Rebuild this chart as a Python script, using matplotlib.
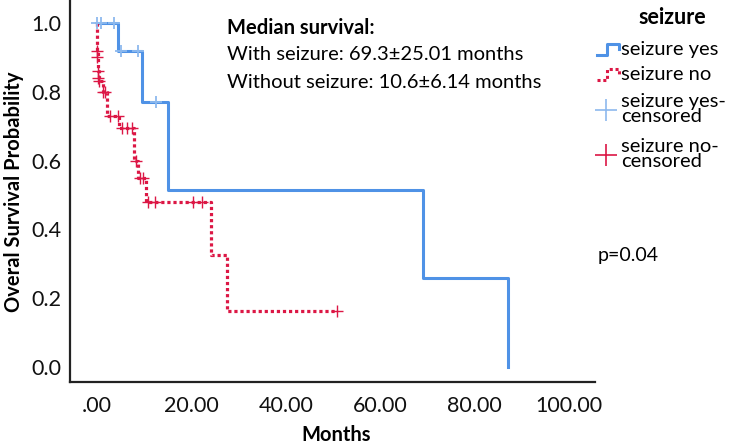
import matplotlib
matplotlib.use('Agg')
import matplotlib.pyplot as plt
from matplotlib.lines import Line2D

plt.rcParams['font.family'] = ['Lato', 'DejaVu Sans']

# seizure yes: event times / survival after each step
yes_t = [0.0, 4.4, 9.5, 15.0, 69.0, 87.0]
yes_s = [1.0, 0.92, 0.77, 0.515, 0.258, 0.0]
yes_cens_t = [0.1, 0.8, 3.6, 5.2, 8.7, 12.5]
yes_cens_s = [1.0, 1.0, 1.0, 0.92, 0.92, 0.77]

# seizure no
no_t = [0.0, 0.2, 0.5, 1.2, 2.2, 4.6, 7.8, 8.6, 10.4, 24.2, 27.5, 50.8]
no_s = [0.92, 0.86, 0.83, 0.80, 0.73, 0.695, 0.60, 0.55, 0.48, 0.325, 0.163, 0.163]
no_cens_t = [0.1, 0.1, 0.2, 0.3, 0.5, 1.3, 1.7, 2.8, 4.4, 5.3, 6.4, 7.4,
             8.2, 9.1, 9.7, 10.8, 12.3, 20.3, 22.2, 50.8]
no_cens_s = [0.92, 0.90, 0.86, 0.84, 0.83, 0.80, 0.80, 0.73, 0.73, 0.695, 0.695, 0.695,
             0.60, 0.55, 0.55, 0.48, 0.48, 0.48, 0.48, 0.163]

xticks = [0, 20, 40, 60, 80, 100]
xtick_labels = ['.00', '20.00', '40.00', '60.00', '80.00', '100.00']
yticks = [0.0, 0.2, 0.4, 0.6, 0.8, 1.0]

legend_title = 'seizure'
legend_labels = ['seizure yes', 'seizure no', 'seizure yes-\ncensored', 'seizure no-\ncensored']

BLUE = '#4F92E6'
BLUE_LIGHT = '#8DB9EE'
RED = '#DC1745'
RED_LS = (0, (1.0, 0.9))

W, H = 745, 445


def fx(px):
    return px / W


def fy(py):
    return 1 - py / H


fig = plt.figure(figsize=(7.45, 4.45), dpi=100)
ax = fig.add_axes([70 / W, 63 / H, 525 / W, 382 / H])

# both curves start at 1.0 at time 0
ax.step([0.0] + yes_t, [1.0] + yes_s, where='post', color=BLUE, lw=2.2)
ax.step([0.0] + no_t, [1.0] + no_s, where='post', color=RED, lw=2.3, linestyle=RED_LS)
ax.plot(yes_cens_t, yes_cens_s, '+', color=BLUE_LIGHT, ms=8, mew=1.3, ls='none')
ax.plot(no_cens_t, no_cens_s, '+', color=RED, ms=8, mew=1.0, ls='none')

ax.set_xlim(-5.7, 105.5)
ax.set_ylim(-0.044, 1.067)
ax.set_xticks(xticks)
ax.set_xticklabels(xtick_labels)
ax.set_yticks(yticks)
ax.set_yticklabels([f'{v:.1f}' for v in yticks])
ax.tick_params(axis='both', length=0, labelsize=15.5, colors='#111111')
ax.tick_params(axis='x', pad=10)
ax.tick_params(axis='y', pad=6)
for s in ['top', 'right']:
    ax.spines[s].set_visible(False)
for s in ['left', 'bottom']:
    ax.spines[s].set_linewidth(1.6)
    ax.spines[s].set_color('#222222')

ax.set_xlabel('Months', fontsize=14.5, fontweight='bold')
ax.xaxis.set_label_coords(0.507, -0.112)
ax.set_ylabel('Overal Survival Probability', fontsize=14.5, fontweight='bold')
ax.yaxis.set_label_coords(-0.087, 0.497)

fig.text(fx(227), fy(28), 'Median survival:', fontsize=14.5, fontweight='bold', va='center')
fig.text(fx(227), fy(55), 'With seizure: 69.3\u00b125.01 months', fontsize=14.5, va='center')
fig.text(fx(227), fy(83), 'Without seizure: 10.6\u00b16.14 months', fontsize=14.5, va='center')
fig.text(fx(598), fy(255), 'p=0.04', fontsize=14, va='center')

# legend drawn by hand to match the SPSS layout
fig.text(fx(672), fy(18), legend_title, fontsize=15.5, fontweight='bold', ha='center', va='center')
for i, (col, ls) in enumerate([(BLUE, '-'), (RED, RED_LS)]):
    yc = [50, 75][i]
    xs = [fx(597), fx(607), fx(607), fx(619), fx(619)]
    ys = [fy(yc + 5), fy(yc + 5), fy(yc - 6), fy(yc - 6), fy(yc - 1)]
    fig.add_artist(Line2D(xs, ys, color=col, lw=2.2, linestyle=ls))
for i, col in enumerate([BLUE_LIGHT, RED]):
    yc = [110, 155][i]
    fig.add_artist(Line2D([fx(606)], [fy(yc)], color=col, marker='+', ms=16, mew=1.2, ls='none'))
for lab, yc in zip(legend_labels, [50, 75, 109, 154]):
    fig.text(fx(621), fy(yc), lab, fontsize=14.5, va='center', linespacing=0.92)

fig.savefig('out.png', dpi=100)
